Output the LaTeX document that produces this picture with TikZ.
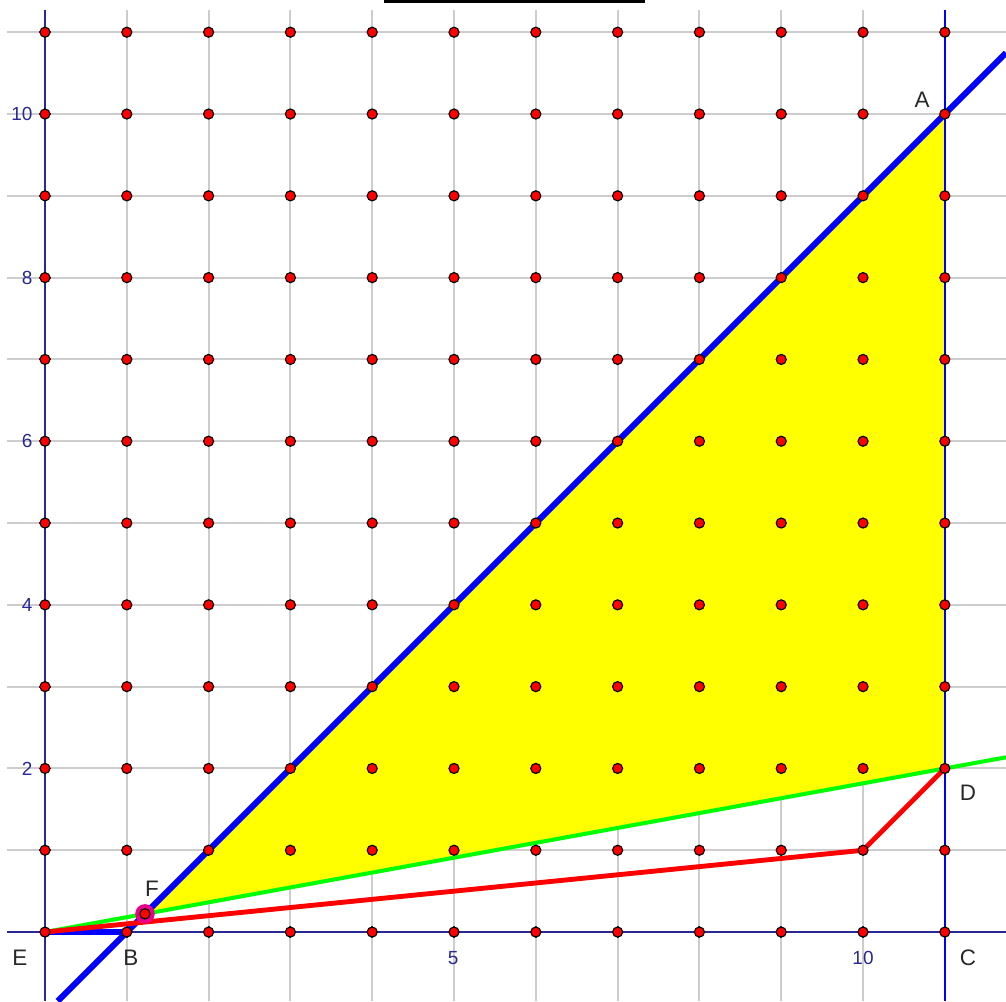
\documentclass[tikz,border=0pt]{standalone}
\usepackage{fontspec}
\setmainfont{Liberation Sans}
\definecolor{gridgray}{RGB}{205,205,205}
\definecolor{axisblue}{RGB}{40,40,150}
\definecolor{lineblue}{RGB}{0,0,255}
\definecolor{linegreen}{RGB}{0,255,0}
\definecolor{linered}{RGB}{255,0,0}
\definecolor{fillyellow}{RGB}{255,255,0}
\definecolor{ptmagenta}{RGB}{235,0,140}
\definecolor{labelgray}{RGB}{40,40,40}
\tikzset{
  gridline/.style={draw=gridgray, line width=0.7pt},
  axisline/.style={draw=axisblue, line width=0.65pt},
  tickmark/.style={draw=axisblue, line width=0.65pt},
  vline/.style={draw=lineblue, line width=0.6pt},
  thickblue/.style={draw=lineblue, line width=2.1pt},
  greenline/.style={draw=linegreen, line width=1.4pt},
  redline/.style={draw=linered, line width=1.7pt, line join=round},
  gpoint/.style={circle, fill=linered, draw=black, line width=0.4pt, minimum size=3.5pt, inner sep=0pt},
  ptlabel/.style={text=labelgray, inner sep=0pt, font=\fontsize{7.8}{9}\selectfont},
  numlabel/.style={text=axisblue, inner sep=0pt, font=\fontsize{6.6}{7}\selectfont},
}
\begin{document}
\begin{tikzpicture}[x=1cm,y=1cm]
\useasboundingbox (-0.55,-0.8435) rectangle (11.748,11.394);
\clip (-0.55,-0.8435) rectangle (11.748,11.394);
% grid
\foreach \i in {0,...,11} \draw[gridline] (\i,-0.8435) -- (\i,11.27);
\foreach \j in {0,...,11} \draw[gridline] (-0.465,\j) -- (11.748,\j);
% named points
\coordinate (E) at (0,0);
\coordinate (B) at (1,0);
\coordinate (C) at (11,0);
\coordinate (D) at (11,2);
\coordinate (A) at (11,10);
\coordinate (F) at (11/9,2/9);
\coordinate (P) at (10,1);
\coordinate (blueBot) at (0.1565,-0.8435);
\coordinate (blueTop) at (11.748,10.748);
\coordinate (greenEnd) at (11.748,2.136);
\coordinate (vTop) at (11,11.27);
\coordinate (vBot) at (11,-0.8435);
\coordinate (xaL) at (-0.465,0);
\coordinate (xaR) at (11.748,0);
\coordinate (yaB) at (0,-0.8435);
\coordinate (yaT) at (0,11.27);
% yellow region
\fill[fillyellow] (F) -- (A) -- (D) -- cycle;
% axes
\draw[axisline] (xaL) -- (xaR);
\draw[axisline] (yaB) -- (yaT);
\foreach \i in {1,...,11} \draw[tickmark] (\i,-0.075) -- (\i,0.075);
\foreach \j in {1,...,11} \draw[tickmark] (-0.075,\j) -- (0.075,\j);
% vertical line through C and A
\draw[vline] (vBot) -- (vTop);
% lines
\draw[greenline] (E) -- (greenEnd);
\draw[thickblue] (blueBot) -- (blueTop);
\draw[thickblue] (E) -- (B);
\draw[redline] (E) -- (P) -- (D);
% top box edge
\draw[black, line width=1pt] (4.156,11.375) rectangle (7.311,11.8);
% grid points
\foreach \i in {0,...,11} \foreach \j in {0,...,11} \node[gpoint] at (\i,\j) {};
% point F
\fill[ptmagenta] (F) circle (3.4pt);
\node[gpoint, minimum size=3.6pt] (Fpt) at (F) {};
% labels
\node[ptlabel] (lE) at (-0.306,-0.318) {E};
\node[ptlabel] (lB) at (1.051,-0.318) {B};
\node[ptlabel] (lC) at (11.284,-0.318) {C};
\node[ptlabel] (lD) at (11.284,1.699) {D};
\node[ptlabel] (lA) at (10.721,10.171) {A};
\node[ptlabel] (lF) at (1.308,0.526) {F};
\node[numlabel] (x5) at (4.99,-0.318) {5};
\node[numlabel] (x10) at (10.0,-0.318) {10};
\node[numlabel, anchor=east] (y10) at (-0.147,10) {10};
\node[numlabel, anchor=east] (y8) at (-0.147,8) {8};
\node[numlabel, anchor=east] (y6) at (-0.147,6) {6};
\node[numlabel, anchor=east] (y4) at (-0.147,4) {4};
\node[numlabel, anchor=east] (y2) at (-0.147,2) {2};
\end{tikzpicture}
\end{document}
